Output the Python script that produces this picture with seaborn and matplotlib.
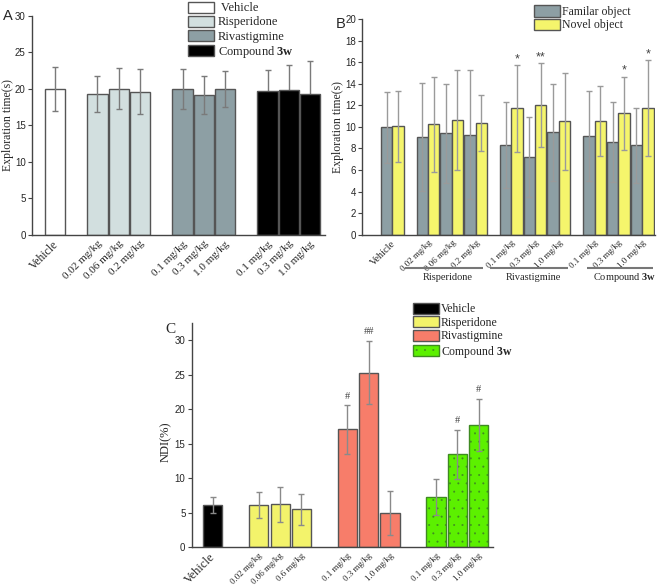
import matplotlib
matplotlib.use("Agg")
import matplotlib.pyplot as plt
import seaborn as sns
import pandas as pd
import numpy as np
from matplotlib.patches import Patch
from matplotlib.transforms import ScaledTranslation, blended_transform_factory

sns.set_theme(style="ticks")
plt.rcParams['font.family'] = ['Liberation Serif', 'DejaVu Serif']
plt.rcParams['mathtext.fontset'] = 'custom'
plt.rcParams['mathtext.rm'] = 'Liberation Serif'
plt.rcParams['mathtext.bf'] = 'Liberation Serif:bold'
plt.rcParams['hatch.linewidth'] = 0.2

# ---------------- data ----------------
groups = ["Vehicle", "Risperidone", "Rivastigmine", "Compound 3w"]
group_of_bar = ["Vehicle"] + ["Risperidone"] * 3 + ["Rivastigmine"] * 3 + ["Compound 3w"] * 3

doses_A = ["Vehicle", "0.02 mg/kg", "0.06 mg/kg", "0.2 mg/kg", "0.1 mg/kg", "0.3 mg/kg",
           "1.0 mg/kg", "0.1 mg/kg", "0.3 mg/kg", "1.0 mg/kg"]
time_A = [20.0, 19.3, 20.0, 19.6, 20.0, 19.1, 20.0, 19.7, 19.8, 19.3]
err_A = [3.0, 2.5, 2.8, 3.1, 2.7, 2.6, 2.5, 2.9, 3.5, 4.5]

doses_B = ["Vehicle", "0.02 mg/kg", "0.06 mg/kg", "0.2 mg/kg", "0.1 mg/kg", "0.3 mg/kg",
           "1.0 mg/kg", "0.1 mg/kg", "0.3 mg/kg", "1.0 mg/kg"]
objects = ["Familar object", "Novel object"]
familiar_B = [9.95, 9.08, 9.40, 9.27, 8.31, 7.17, 9.52, 9.15, 8.56, 8.28]
familiar_err_B = [3.3, 5.0, 4.6, 6.0, 4.0, 3.7, 4.5, 4.2, 3.7, 3.5]
novel_B = [10.07, 10.26, 10.63, 10.35, 11.71, 11.99, 10.51, 10.57, 11.25, 11.71]
novel_err_B = [3.3, 4.4, 4.6, 2.6, 4.0, 3.9, 4.5, 3.25, 3.4, 4.45]
stars_B = ["", "", "", "", "*", "**", "", "", "*", "*"]
group_labels_B = ["Risperidone", "Rivastigmine", "Compound $\\mathbf{3w}$"]

doses_C = ["Vehicle", "0.02 mg/kg", "0.06 mg/kg", "0.6 mg/kg", "0.1 mg/kg", "0.3 mg/kg",
           "1.0 mg/kg", "0.1 mg/kg", "0.3 mg/kg", "1.0 mg/kg"]
ndi_C = [6.12, 6.12, 6.20, 5.54, 17.08, 25.30, 4.92, 7.23, 13.50, 17.75]
err_C = [1.2, 1.85, 2.6, 2.25, 3.5, 4.6, 3.2, 2.6, 3.55, 3.8]
hash_C = ["", "", "", "", "#", "##", "", "", "#", "#"]

legend_labels = ["Vehicle", "Risperidone", "Rivastigmine", "Compound $\\mathbf{3w}$"]

# ---------------- styles ----------------
pal_A = {"Vehicle": "#ffffff", "Risperidone": "#d2dfdf", "Rivastigmine": "#8d9fa4",
         "Compound 3w": "#000000"}
pal_B = {"Familar object": "#8d9fa4", "Novel object": "#f5f56c"}
pal_C = {"Vehicle": "#000000", "Risperidone": "#f3f36b", "Rivastigmine": "#f77d6a",
         "Compound 3w": "#5cf000"}
EDGE = "#555555"
SANS = ['Liberation Sans', 'DejaVu Sans']


def positions(gap):
    gidx = [groups.index(g) for g in group_of_bar]
    return [i + gap * g for i, g in enumerate(gidx)]


fig = plt.figure(figsize=(6.61, 5.85), dpi=100)


def style_axis(ax, ylim, yticks, xlim):
    ax.set_ylim(*ylim)
    ax.set_xlim(*xlim)
    ax.set_yticks(yticks)
    for s in ["top", "right"]:
        ax.spines[s].set_visible(False)
    for s in ["left", "bottom"]:
        ax.spines[s].set_color("#444444")
        ax.spines[s].set_linewidth(1.0)
    ax.tick_params(axis="y", direction="out", length=3, width=0.8, color="#444444",
                   pad=1.5, labelsize=7)
    ax.tick_params(axis="x", length=0, pad=3)
    for lab in ax.get_yticklabels():
        lab.set_family(SANS)
    ax.set_xlabel("")


def set_xlabels(ax, pos, labels, size, vsize, dx_px):
    ax.set_xticks(pos)
    ax.set_xticklabels(labels, rotation=45, ha="right", va="top")
    off = ScaledTranslation(dx_px / 100, 0, fig.dpi_scale_trans)
    for i, lab in enumerate(ax.get_xticklabels()):
        lab.set_fontsize(vsize if i == 0 else size)
        lab.set_transform(lab.get_transform() + off)


def add_legend(ax, labels, colors, x_px, y_px, fontsize, hatches=None, edges=None,
               spacing=0.1, textpad=0.3):
    handles = []
    for i, (l, c) in enumerate(zip(labels, colors)):
        h = Patch(facecolor=c, edgecolor=(edges[i] if edges else EDGE), linewidth=1.0,
                  hatch=(hatches[i] if hatches else None))
        handles.append(h)
    fs_px = fontsize * 100 / 72
    ax.legend(handles=handles, labels=labels, loc="upper left",
              bbox_to_anchor=(x_px / 661, 1 - y_px / 585), bbox_transform=fig.transFigure,
              frameon=False, fontsize=fontsize, borderpad=0, borderaxespad=0,
              handlelength=26 / fs_px, handleheight=12.5 / fs_px,
              handletextpad=textpad, labelspacing=spacing)


# ---------------- Panel A ----------------
axA = fig.add_axes([0.0484, 0.5983, 0.4433, 0.3749])
posA = positions(1.0)
dfA = pd.DataFrame({"pos": posA, "time": time_A, "group": group_of_bar})
sns.barplot(data=dfA, x="pos", y="time", hue="group", hue_order=groups, palette=pal_A,
            native_scale=True, width=0.95, dodge=False, errorbar=None, saturation=1,
            edgecolor=EDGE, linewidth=1.0, legend=False, ax=axA)
for g, z in zip(groups, [3, 3, 3, 0.5]):
    idx = [i for i, gg in enumerate(group_of_bar) if gg == g]
    eb = axA.errorbar([posA[i] for i in idx], [time_A[i] for i in idx],
                      yerr=[err_A[i] for i in idx], fmt="none", ecolor="#7a7a7a",
                      elinewidth=1.0, capsize=2.5, capthick=1.0, zorder=z)
    for cl in eb[1]:
        cl.set_color("#555555")
style_axis(axA, (0, 30), range(0, 31, 5), (-1.08, 12.7))
set_xlabels(axA, posA, doses_A, 8, 8.5, 6)
axA.set_ylabel("Exploration time(s)", fontsize=8.5)
axA.yaxis.set_label_coords(-0.062, 0.5)
add_legend(axA, [" Vehicle"] + legend_labels[1:], [pal_A[g] for g in groups], 187.5, 1.5, 9,
           spacing=0.1, textpad=0.35)
fig.text(3 / 661, 1 - 20 / 585, "A", family=SANS, fontsize=10.5, va="baseline")

# ---------------- Panel B ----------------
axB = fig.add_axes([0.5481, 0.5988, 0.4428, 0.3687])
posB = positions(0.5)
dfB = pd.DataFrame({
    "pos": posB + posB,
    "value": familiar_B + novel_B,
    "object": [objects[0]] * len(posB) + [objects[1]] * len(posB),
})
sns.barplot(data=dfB, x="pos", y="value", hue="object", hue_order=objects, palette=pal_B,
            native_scale=True, width=0.96, dodge=True, errorbar=None, saturation=1,
            edgecolor=EDGE, linewidth=1.0, legend=False, ax=axB)
for vals, errs, dx in [(familiar_B, familiar_err_B, -0.24), (novel_B, novel_err_B, 0.24)]:
    eb = axB.errorbar([p + dx for p in posB], vals, yerr=errs, fmt="none", ecolor="#9a9a9a",
                      elinewidth=1.0, capsize=2.2, capthick=1.0, zorder=3)
    for cl in eb[1]:
        cl.set_color("#555555")
for p, v, e, s in zip(posB, novel_B, novel_err_B, stars_B):
    if s:
        axB.text(p + 0.24, v + e + 0.55, s, ha="center", va="center", fontsize=9,
                 color="#444444", family=SANS)
style_axis(axB, (0, 20), range(0, 21, 2), (-1.26, 11.04))
set_xlabels(axB, posB, doses_B, 6.5, 7.5, 5.5)
axB.set_ylabel("Exploration time(s)", fontsize=8.5)
axB.yaxis.set_label_coords(-0.064, 0.5)
trB = blended_transform_factory(axB.transData, fig.transFigure)
line_y = 1 - 268 / 585
text_y = 1 - 277.5 / 585
for (x0, x1), xc, lab in zip([(0.55, 3.8), (4.1, 7.4), (8.2, 10.95)], [2.35, 5.95, 9.78],
                             group_labels_B):
    axB.plot([x0, x1], [line_y, line_y], transform=trB, color="#777777", lw=1.5,
             clip_on=False, solid_capstyle="butt")
    axB.text(xc, text_y, lab, transform=trB, ha="center", va="center", fontsize=7.5)
add_legend(axB, objects, [pal_B[o] for o in objects], 534, 5.5, 8.5, spacing=0.05, textpad=0.15)
fig.text(336 / 661, 1 - 28 / 585, "B", family=SANS, fontsize=10.5, va="baseline")

# ---------------- Panel C ----------------
axC = fig.add_axes([0.29, 0.0645, 0.4558, 0.3834])
posC = positions(1.16)
dfC = pd.DataFrame({"pos": posC, "ndi": ndi_C, "group": group_of_bar})
sns.barplot(data=dfC, x="pos", y="ndi", hue="group", hue_order=groups, palette=pal_C,
            native_scale=True, width=0.9, dodge=False, errorbar=None, saturation=1,
            edgecolor=EDGE, linewidth=1.0, legend=False, ax=axC)
GREEN_EDGE = "#3f8a22"
for bar, g in zip(sorted(axC.patches, key=lambda b: b.get_x()), group_of_bar):
    if g == "Compound 3w":
        bar.set_hatch("..")
        bar.set_edgecolor(GREEN_EDGE)
eb = axC.errorbar(posC, ndi_C, yerr=err_C, fmt="none", ecolor="#8a8a8a",
                  elinewidth=1.0, capsize=2.2, capthick=1.0, zorder=3)
for cl in eb[1]:
    cl.set_color("#555555")
for p, v, e, s in zip(posC, ndi_C, err_C, hash_C):
    if s:
        axC.text(p, v + e + 1.3, s, ha="center", va="center", fontsize=7.5, color="#444444")
style_axis(axC, (0, 32.5), range(0, 31, 5), (-0.99, 13.15))
set_xlabels(axC, posC, doses_C, 6.5, 9, 5)
axC.set_ylabel("NDI(%)", fontsize=9)
axC.yaxis.set_label_coords(-0.065, 0.47)
add_legend(axC, legend_labels, [pal_C[g] for g in groups], 413, 302.5, 8.5,
           hatches=[None, None, None, ".."], edges=[EDGE, EDGE, EDGE, GREEN_EDGE],
           spacing=0.1, textpad=0.15)
fig.text(165 / 661, 1 - 333 / 585, "C", fontsize=11, va="baseline")

fig.savefig("out.png", dpi=100)
